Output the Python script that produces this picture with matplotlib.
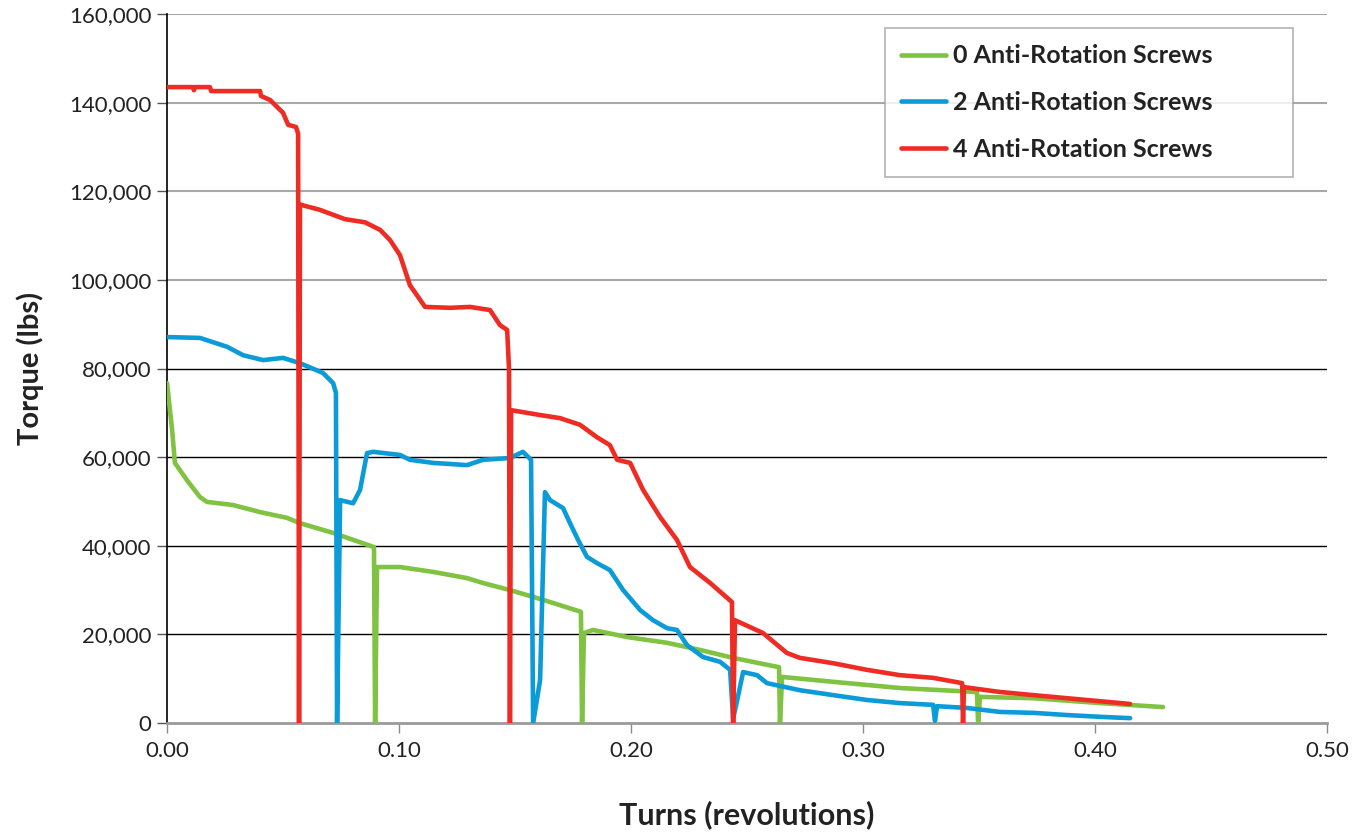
import matplotlib
matplotlib.use("Agg")
import matplotlib.pyplot as plt

plt.rcParams['font.family'] = ['Lato', 'DejaVu Sans']

# ---- data (turns, torque lbs) ----
x0 = [0.0, 0.0022, 0.0034, 0.0086, 0.0142, 0.0172, 0.0284, 0.0401, 0.0517, 0.0573, 0.0716,
      0.0892, 0.0897, 0.0905, 0.1004, 0.1147, 0.1293, 0.1362, 0.1478, 0.1621, 0.1784,
      0.1789, 0.1797, 0.1836, 0.1983, 0.2155, 0.2297, 0.2440, 0.2638, 0.2642, 0.2651,
      0.2871, 0.3159, 0.3491, 0.3496, 0.3504, 0.3733, 0.4022, 0.4293]
y0 = [76700, 66100, 58700, 54800, 51000, 49900, 49200, 47600, 46300, 45100, 42900,
      39700, 0, 35200, 35200, 34100, 32700, 31600, 30000, 27800, 25100,
      0, 20300, 21000, 19400, 18100, 16500, 14700, 12600, 0, 10400,
      9300, 7900, 7000, 0, 5900, 5600, 4500, 3600]

x2 = [0.0, 0.0142, 0.0259, 0.0328, 0.0414, 0.0500, 0.0573, 0.0672, 0.0716, 0.0728, 0.0733,
      0.0746, 0.0802, 0.0832, 0.0862, 0.0888, 0.1004, 0.1047, 0.1147, 0.1293, 0.1362,
      0.1478, 0.1534, 0.1569, 0.1578, 0.1608, 0.1629, 0.1651, 0.1707, 0.1737, 0.1772,
      0.1810, 0.1853, 0.1909, 0.1966, 0.2039, 0.2095, 0.2155, 0.2198, 0.2241, 0.2310,
      0.2384, 0.2427, 0.2440, 0.2457, 0.2483, 0.2543, 0.2586, 0.2728, 0.2871, 0.3017,
      0.3159, 0.3302, 0.3310, 0.3319, 0.3448, 0.3591, 0.3733, 0.3879, 0.4022, 0.4151]
y2 = [87100, 86900, 84900, 83000, 81900, 82400, 81200, 79000, 76700, 74500, 0,
      50300, 49600, 52600, 60900, 61200, 60500, 59400, 58700, 58200, 59400,
      59800, 61200, 59400, 0, 9700, 52100, 50300, 48500, 45100, 41300,
      37500, 36100, 34500, 30000, 25500, 23200, 21400, 21000, 17600, 14900,
      13800, 12000, 1000, 5000, 11500, 10800, 9000, 7400, 6300, 5200,
      4500, 4100, 500, 3800, 3400, 2500, 2300, 1800, 1400, 1100]

x4 = [0.0, 0.0112, 0.0116, 0.0120, 0.0185, 0.0190, 0.0401, 0.0405, 0.0444, 0.0500, 0.0522,
      0.0556, 0.0565, 0.0569, 0.0573, 0.0659, 0.0767, 0.0853, 0.0918, 0.0961, 0.1004,
      0.1047, 0.1091, 0.1112, 0.1220, 0.1306, 0.1392, 0.1435, 0.1466, 0.1474, 0.1478,
      0.1483, 0.1608, 0.1694, 0.1780, 0.1853, 0.1909, 0.1940, 0.1996, 0.2052, 0.2125,
      0.2198, 0.2254, 0.2341, 0.2435, 0.2440, 0.2448, 0.2569, 0.2672, 0.2728, 0.2871,
      0.3017, 0.3159, 0.3302, 0.3427, 0.3431, 0.3435, 0.3591, 0.3733, 0.3879, 0.4151]
y4 = [143500, 143500, 142800, 143500, 143500, 142600, 142600, 141500, 140600, 137700, 135000,
      134500, 133000, 0, 117000, 115800, 113700, 113000, 111300, 109000, 105600,
      98800, 95500, 93900, 93700, 93900, 93200, 89800, 88700, 80000, 0,
      70600, 69500, 68800, 67300, 64500, 62700, 59400, 58700, 52600, 46500,
      41300, 35200, 31600, 27300, 0, 23200, 20300, 15800, 14700, 13500,
      12000, 10800, 10200, 9000, 0, 8100, 7000, 6300, 5600, 4300]

labels = ["0 Anti-Rotation Screws", "2 Anti-Rotation Screws", "4 Anti-Rotation Screws"]
colors = ["#80c241", "#0b9bd8", "#ee2c24"]

yticks = [0, 20000, 40000, 60000, 80000, 100000, 120000, 140000, 160000]
xticks = [0.0, 0.1, 0.2, 0.3, 0.4, 0.5]

fig = plt.figure(figsize=(13.59, 8.38), dpi=100)
ax = fig.add_axes([0.1229, 0.1372, 0.8536, 0.8461])

# gridlines: lower ones black, upper ones grey
for v in yticks[1:]:
    if v <= 80000:
        ax.axhline(v, color="black", lw=1.0, zorder=1)
    else:
        ax.axhline(v, color="#a8a8a8", lw=1.5, zorder=1)

for xs, ys, lab, c in zip([x0, x2, x4], [y0, y2, y4], labels, colors):
    ax.plot(xs, ys, color=c, lw=3.3, label=lab, zorder=3,
            solid_joinstyle="round", solid_capstyle="round")

ax.set_xlim(0, 0.5)
ax.set_ylim(0, 160000)
ax.set_xticks(xticks)
ax.set_xticklabels([f"{v:.2f}" for v in xticks])
ax.set_yticks(yticks)
ax.set_yticklabels([f"{v:,}" for v in yticks])

for s in ["top", "right"]:
    ax.spines[s].set_visible(False)
ax.spines["left"].set_color("black")
ax.spines["left"].set_linewidth(1.2)
ax.spines["bottom"].set_color("#9a9a9a")
ax.spines["bottom"].set_linewidth(2.0)

ax.tick_params(axis="y", length=7, width=1, color="#555555", labelsize=16, pad=4,
               labelcolor="#222222")
ax.tick_params(axis="x", length=7, width=1, color="#8a8a8a", labelsize=16, pad=6,
               labelcolor="#222222")

ax.set_ylabel("Torque (lbs)", fontsize=21, fontweight="bold", labelpad=18, color="#222222")
ax.set_xlabel("Turns (revolutions)", fontsize=22, fontweight="bold", labelpad=28, color="#222222")

leg = ax.legend(loc="upper left", bbox_to_anchor=(0.619, 0.784, 0.3517, 0.196),
                mode="expand", prop={"weight": "bold", "size": 18}, frameon=True,
                fancybox=False, edgecolor="#a0a0a0", handlelength=1.8, handletextpad=0.25,
                borderpad=0.65, labelspacing=0.95, borderaxespad=0)
leg.get_frame().set_linewidth(1.2)
for t in leg.get_texts():
    t.set_color("#222222")

fig.savefig("out.png", dpi=100)
